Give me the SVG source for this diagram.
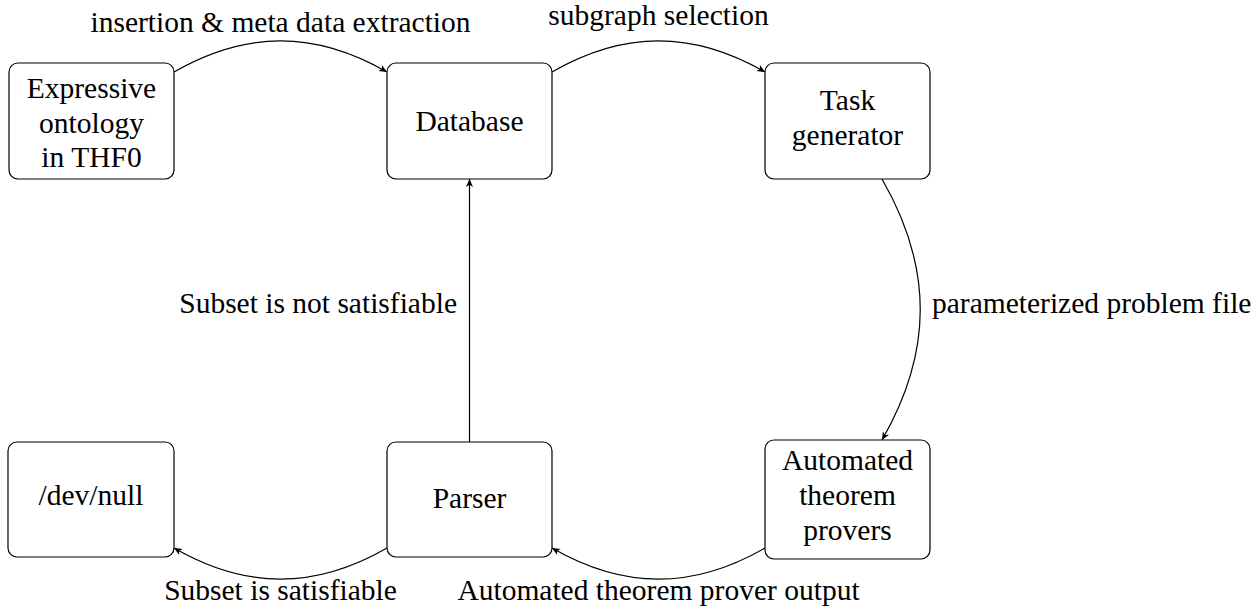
<svg xmlns="http://www.w3.org/2000/svg" width="1260" height="616" viewBox="0 0 1260 616">
  <style>
    .box { fill: #ffffff; stroke: #000000; stroke-width: 1.2; }
    .t { font-family: "Liberation Serif", "DejaVu Serif", serif; font-size: 29.5px; fill: #000000; }
    .c { text-anchor: middle; }
    .e { text-anchor: end; }
    .edge { fill: none; stroke: #000000; stroke-width: 1.2; marker-end: url(#arr); }
  </style>
  <defs>
    <marker id="arr" markerUnits="userSpaceOnUse" markerWidth="12" markerHeight="10" viewBox="-9 -5 10 10" refX="0" refY="0" orient="auto">
      <path d="M0,0 L-8,-3.6 L-5.8,0 L-8,3.6 Z" fill="#000000"/>
    </marker>
  </defs>
  <rect width="1260" height="616" fill="#ffffff"/>

  <g id="connectors">
    <path class="edge" d="M174,72 C246,30.5 315,30.5 387,72"/>
    <path class="edge" d="M552,72 C624,30.5 693,30.5 765,72"/>
    <path class="edge" d="M882,179 C933,267.5 933,351.5 882,440"/>
    <path class="edge" d="M765,548 C693,589.5 624,589.5 552,548"/>
    <path class="edge" d="M387,548 C315,589.5 246,589.5 174,548"/>
    <path class="edge" d="M469.5,442 L469.5,179"/>
  </g>

  <g id="edge-labels">
    <text class="t c" x="280.5" y="32">insertion &amp; meta data extraction</text>
    <text class="t c" x="658.5" y="25">subgraph selection</text>
    <text class="t" x="932" y="313">parameterized problem file</text>
    <text class="t e" x="457" y="313">Subset is not satisfiable</text>
    <text class="t c" x="280.5" y="600">Subset is satisfiable</text>
    <text class="t c" x="658.5" y="600">Automated theorem prover output</text>
  </g>

  <g id="node-ontology">
    <rect class="box" x="9" y="63" width="165" height="116" rx="9"/>
    <text class="t c" x="91.5" y="98">Expressive</text>
    <text class="t c" x="91.5" y="133">ontology</text>
    <text class="t c" x="91.5" y="167">in THF0</text>
  </g>
  <g id="node-database">
    <rect class="box" x="387" y="63" width="165" height="116" rx="9"/>
    <text class="t c" x="469.5" y="131">Database</text>
  </g>
  <g id="node-task">
    <rect class="box" x="765" y="63" width="165" height="116" rx="9"/>
    <text class="t c" x="847.5" y="110">Task</text>
    <text class="t c" x="847.5" y="145">generator</text>
  </g>
  <g id="node-devnull">
    <rect class="box" x="8" y="442" width="166" height="115" rx="9"/>
    <text class="t c" x="91" y="505">/dev/null</text>
  </g>
  <g id="node-parser">
    <rect class="box" x="387" y="442" width="165" height="115" rx="9"/>
    <text class="t c" x="469.5" y="508">Parser</text>
  </g>
  <g id="node-atp">
    <rect class="box" x="765" y="440" width="165" height="119" rx="9"/>
    <text class="t c" x="847.5" y="470">Automated</text>
    <text class="t c" x="847.5" y="505">theorem</text>
    <text class="t c" x="847.5" y="540">provers</text>
  </g>
</svg>
